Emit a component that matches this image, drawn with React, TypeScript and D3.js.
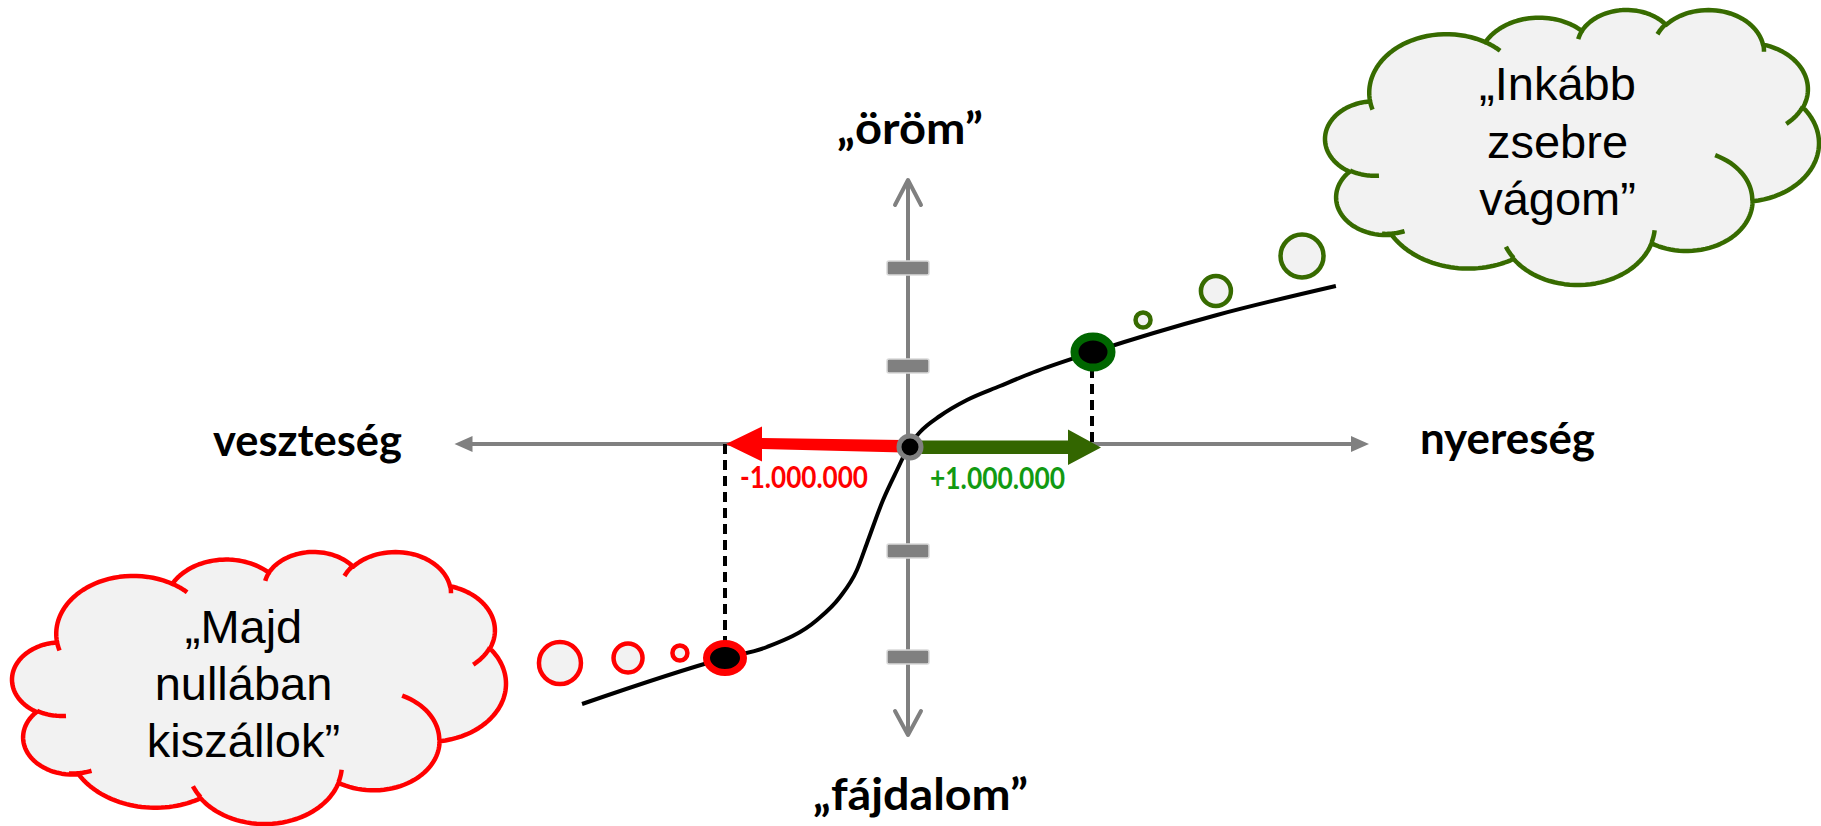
import React from 'react';
import * as d3 from 'd3';

const W = 1821;
const H = 826;

// value function: x = change of wealth (millió), y = felt value
const curveX = [-1.777, -1.0, -0.772, -0.5, -0.375, -0.283, -0.228, -0.141, -0.065, 0, 0.06, 0.168, 0.315, 0.495, 0.674, 1.0, 1.674, 2.32];
const curveY = [-2.58, -2.12, -2.01, -1.74, -1.51, -1.24, -0.97, -0.54, -0.24, 0, 0.14, 0.3, 0.46, 0.6, 0.735, 0.94, 1.31, 1.6];

const yTicks = [1.78, 0.8, -1.05, -2.11];
const xAxisExtent = [-2.47, 2.5];
const yAxisExtent = [-2.89, 2.66];

const lossPoint = [-1, -2.12];
const gainPoint = [1, 0.94];
const lossLabel = '-1.000.000';
const gainLabel = '+1.000.000';

const redBubblesX = [-1.897, -1.527, -1.245];
const redBubblesY = [-2.17, -2.12, -2.07];
const greenBubblesX = [1.272, 1.668, 2.136];
const greenBubblesY = [1.26, 1.55, 1.9];

const lossThought = ['„Majd', 'nullában', 'kiszállok”'];
const gainThought = ['„Inkább', 'zsebre', 'vágom”'];

// PowerPoint "cloud" preset geometry (43200 x 43200 space)
type Pt = [number, number];
const CLOUD_START: Pt = [3900, 14370];
const CLOUD_ARCS: number[][] = [
  [6753, 9190, -11429249, 7426832],
  [5333, 7267, -8646143, 5396714],
  [4365, 5945, -8748475, 5983381],
  [4857, 6595, -7859164, 7034504],
  [5333, 7273, -4722533, 6541615],
  [6775, 9220, -2776035, 7816140],
  [5785, 7867, 37501, 6842000],
  [6752, 9215, 1347096, 6910353],
  [7720, 10543, 3974558, 4542661],
  [4360, 5918, -16496525, 8804134],
  [4345, 5945, -14809710, 9151131],
];
const CLOUD_INNER: number[][] = [
  [4693, 26177, 4345, 5945, 5204520, 1585770],
  [6928, 34899, 4360, 5918, 4416217, 1186577],
  [16478, 39090, 6752, 9215, 8257449, 844866],
  [28827, 34751, 6752, 9215, 387196, 959901],
  [34129, 22954, 5785, 7867, -4217541, 4255042],
  [41798, 15354, 5333, 7273, 1819082, 1665090],
  [38324, 5426, 4857, 6595, -824660, 891534],
  [29078, 3952, 4857, 6595, -8950887, 1091722],
  [22141, 4720, 4365, 5945, -9809656, 1061181],
  [14000, 5192, 6753, 9190, -4002417, 739161],
  [4127, 15789, 6753, 9190, 9459261, 711490],
];

function arcPts(p: Pt, wR: number, hR: number, st: number, sw: number, n = 40): Pt[] {
  const a1 = (st / 60000) * Math.PI / 180;
  const da = (sw / 60000) * Math.PI / 180;
  const par = (a: number) => Math.atan2(wR * Math.sin(a), hR * Math.cos(a));
  const t1 = par(a1);
  const cx = p[0] - wR * Math.cos(t1);
  const cy = p[1] - hR * Math.sin(t1);
  const out: Pt[] = [];
  for (let i = 1; i <= n; i++) {
    const t = par(a1 + (da * i) / n);
    out.push([cx + wR * Math.cos(t), cy + hR * Math.sin(t)]);
  }
  return out;
}

function cloudGeometry(x0: number, y0: number, x1: number, y1: number) {
  let cur: Pt = CLOUD_START;
  const outline: Pt[] = [cur];
  CLOUD_ARCS.forEach(([wR, hR, st, sw]) => {
    const pts = arcPts(cur, wR, hR, st, sw);
    outline.push(...pts);
    cur = pts[pts.length - 1];
  });
  const inner = CLOUD_INNER.map(([px, py, wR, hR, st, sw]) => {
    const s: Pt = [px, py];
    return [s, ...arcPts(s, wR, hR, st, sw, 20)];
  });
  const sx = d3.scaleLinear().domain(d3.extent(outline, d => d[0]) as [number, number]).range([x0, x1]);
  const sy = d3.scaleLinear().domain(d3.extent(outline, d => d[1]) as [number, number]).range([y0, y1]);
  const line = d3.line<Pt>().x(d => sx(d[0])).y(d => sy(d[1]));
  return { outline: line(outline) + 'Z', inner: inner.map(seg => line(seg) as string) };
}

function Cloud({ box, stroke, lines, cx, baselines }: {
  box: number[]; stroke: string; lines: string[]; cx: number; baselines: number[];
}) {
  const g = cloudGeometry(box[0], box[1], box[2], box[3]);
  return (
    <g>
      <path d={g.outline} fill="#f2f2f2" stroke={stroke} strokeWidth={4.5} strokeLinejoin="round" />
      {g.inner.map((d, i) => (
        <path key={i} d={d} fill="none" stroke={stroke} strokeWidth={4.5} />
      ))}
      {lines.map((t, i) => (
        <text key={t} x={cx} y={baselines[i]} textAnchor="middle" fontFamily="'Liberation Sans', Arial, sans-serif"
          fontSize={47} fill="#000">{t}</text>
      ))}
    </g>
  );
}

export default function App() {
  const x = d3.scaleLinear().domain([-1, 1]).range([725, 1093]);
  const y = d3.scaleLinear().domain([0, 1]).range([446, 346]);

  const pts = curveX.map((v, i) => [v, curveY[i]] as Pt);
  const valueLine = d3.line<Pt>().x(d => x(d[0])).y(d => y(d[1])).curve(d3.curveMonotoneX);

  const ox = x(0);
  const oy = y(0);
  const axY = oy - 2;
  const grey = '#808080';
  const labelFont = "Lato, 'Open Sans', sans-serif";

  const hx0 = x(xAxisExtent[0]);
  const hx1 = x(xAxisExtent[1]);
  const vy0 = y(yAxisExtent[1]);
  const vy1 = y(yAxisExtent[0]);

  const lx = x(lossPoint[0]);
  const ly = y(lossPoint[1]);
  const gx = x(gainPoint[0]);
  const gy = y(gainPoint[1]);

  const redTip = lx + 1;
  const greenTip = gx + 8;

  return (
    <svg width={W} height={H} style={{ position: 'absolute', left: 0, top: 0, background: '#fff' }}>
      {/* horizontal axis */}
      <line x1={hx0 + 14} y1={axY} x2={hx1 - 14} y2={axY} stroke={grey} strokeWidth={4} />
      <path d={`M${hx0},${axY} L${hx0 + 18},${axY - 8} L${hx0 + 18},${axY + 8} Z`} fill={grey} />
      <path d={`M${hx1},${axY} L${hx1 - 18},${axY - 8} L${hx1 - 18},${axY + 8} Z`} fill={grey} />

      {/* vertical axis */}
      <line x1={ox - 1} y1={vy0 + 2} x2={ox - 1} y2={vy1 - 2} stroke={grey} strokeWidth={4} />
      <path d={`M${ox - 14},${vy0 + 25} L${ox - 1},${vy0} L${ox + 12},${vy0 + 25}`} fill="none" stroke={grey} strokeWidth={4} strokeLinecap="round" strokeLinejoin="round" />
      <path d={`M${ox - 14},${vy1 - 24} L${ox - 1},${vy1} L${ox + 12},${vy1 - 24}`} fill="none" stroke={grey} strokeWidth={4} strokeLinecap="round" strokeLinejoin="round" />
      {yTicks.map(t => (
        <rect key={t} x={ox - 22} y={y(t) - 7} width={42} height={14} rx={2} fill={grey} stroke="#d9d9d9" strokeWidth={1.5} />
      ))}

      {/* projections */}
      <line x1={lx} y1={axY} x2={lx} y2={ly} stroke="#000" strokeWidth={4} strokeDasharray="10 6" />
      <line x1={gx - 1} y1={gy} x2={gx - 1} y2={axY + 1} stroke="#000" strokeWidth={4} strokeDasharray="10 6" />

      {/* loss / gain arrows */}
      <path d={`M${ox - 6},${oy - 6} L${redTip + 36},${axY - 6} L${redTip + 36},${axY - 17.5} L${redTip},${axY} L${redTip + 36},${axY + 17.5} L${redTip + 36},${axY + 5} L${ox - 6},${oy + 6.5} Z`} fill="#ff0000" />
      <path d={`M${ox + 4},${oy - 5.5} L${greenTip - 33},${oy - 5.5} L${greenTip - 33},${oy - 16.5} L${greenTip},${oy + 1.5} L${greenTip - 33},${oy + 19} L${greenTip - 33},${oy + 8} L${ox + 4},${oy + 8} Z`} fill="#336600" />

      {/* value curve */}
      <path d={valueLine(pts) as string} fill="none" stroke="#000" strokeWidth={4} />

      {/* origin */}
      <circle cx={ox + 1} cy={oy + 1} r={11} fill="#000" stroke={grey} strokeWidth={5} />

      {/* loss & gain points */}
      <ellipse cx={lx} cy={ly} rx={18.5} ry={14.5} fill="#000" stroke="#ff0000" strokeWidth={7} />
      <ellipse cx={gx} cy={gy} rx={18.5} ry={15.5} fill="#000" stroke="#006600" strokeWidth={8} />

      {/* thought bubbles */}
      {redBubblesX.map((v, i) => (
        <circle key={'r' + i} cx={x(v)} cy={y(redBubblesY[i])} r={[21, 14.5, 7.5][i]} fill="#f2f2f2" stroke="#ff0000" strokeWidth={4.5} />
      ))}
      {greenBubblesX.map((v, i) => (
        <circle key={'g' + i} cx={x(v)} cy={y(greenBubblesY[i])} r={[7.5, 15, 21.5][i]} fill="#f2f2f2" stroke="#376b00" strokeWidth={4.5} />
      ))}

      <Cloud box={[1325, 10, 1819, 285]} stroke="#376b00" lines={gainThought} cx={1557.5}
        baselines={[100, 158, 215]} />
      <Cloud box={[12, 552, 506, 824]} stroke="#ff0000" lines={lossThought} cx={243.5}
        baselines={[643, 700, 757]} />

      {/* axis labels */}
      <g fontFamily={labelFont} fontWeight={700} fontSize={44} fill="#000" textAnchor="middle">
        <text x={307.5} y={456} textLength={189} lengthAdjust="spacingAndGlyphs">veszteség</text>
        <text x={1507.5} y={454} textLength={175} lengthAdjust="spacingAndGlyphs">nyereség</text>
        <text x={910} y={144} textLength={146} lengthAdjust="spacingAndGlyphs">„öröm”</text>
        <text x={920.5} y={810} textLength={215} lengthAdjust="spacingAndGlyphs">„fájdalom”</text>
      </g>
      <text x={804} y={488} textAnchor="middle" fontFamily={labelFont} fontWeight={700} fontSize={30}
        fill="#ff0000" textLength={128} lengthAdjust="spacingAndGlyphs">{lossLabel}</text>
      <text x={997.5} y={489} textAnchor="middle" fontFamily={labelFont} fontWeight={700} fontSize={30}
        fill="#129a12" textLength={135} lengthAdjust="spacingAndGlyphs">{gainLabel}</text>
    </svg>
  );
}
